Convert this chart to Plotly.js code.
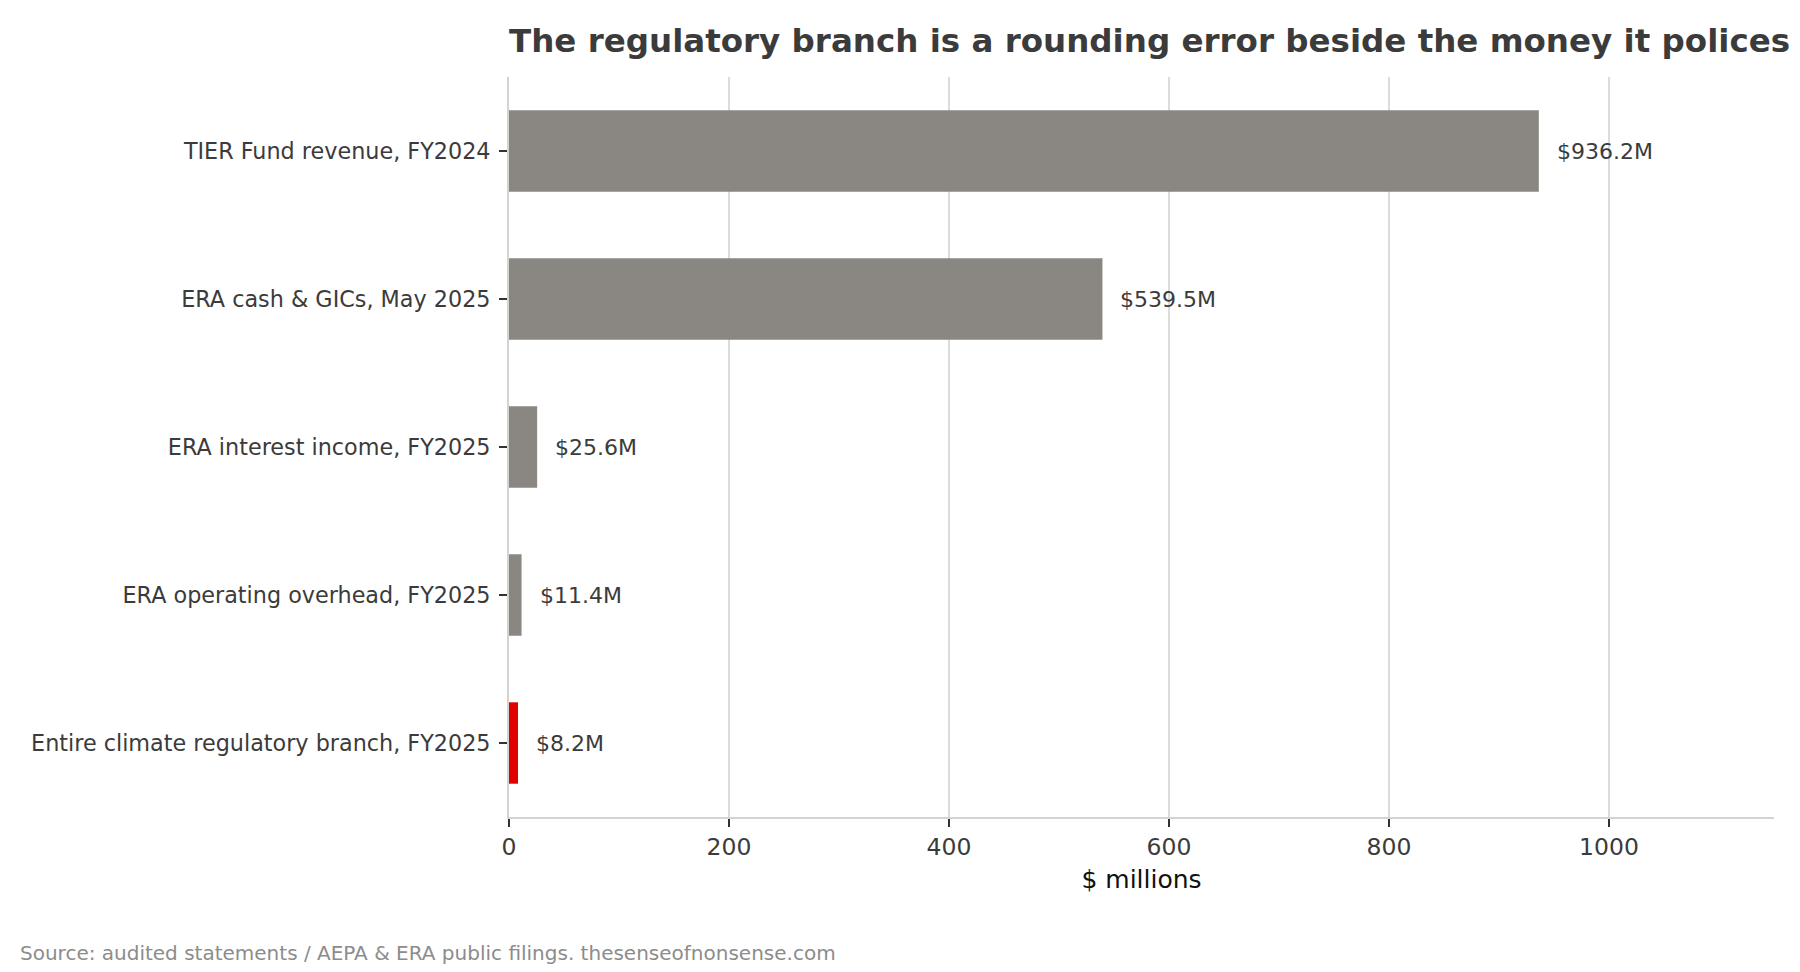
<!DOCTYPE html>
<html>
<head>
<meta charset="utf-8">
<script src="https://cdn.plot.ly/plotly-3.0.1.min.js"></script>
<style>
  html, body { margin: 0; padding: 0; background: #fff; }
  #chart { width: 1800px; height: 972px; }
</style>
</head>
<body>
<div id="chart"></div>
<script>
// values in $ millions, top to bottom
var categories = [
    'TIER Fund revenue, FY2024',
    'ERA cash & GICs, May 2025',
    'ERA interest income, FY2025',
    'ERA operating overhead, FY2025',
    'Entire climate regulatory branch, FY2025'
];
var amounts = [936.2, 539.5, 25.6, 11.4, 8.2];
var valueLabels = ['$936.2M', '$539.5M', '$25.6M', '$11.4M', '$8.2M'];
var barColors = ['#8a8782', '#8a8782', '#8a8782', '#8a8782', '#e00000'];
var xTicks = [0, 200, 400, 600, 800, 1000];

var textColor = '#3b3b3b';
var font = 'DejaVu Sans, sans-serif';

var trace = {
    type: 'bar',
    orientation: 'h',
    y: categories,
    x: amounts,
    width: 0.55,
    marker: { color: barColors, line: { width: 0 } },
    hoverinfo: 'skip',
    showlegend: false
};

var annotations = amounts.map(function (v, i) {
    return {
        x: v, y: categories[i], xref: 'x', yref: 'y',
        text: valueLabels[i], showarrow: false,
        xanchor: 'left', yanchor: 'middle', xshift: 16,
        font: { family: font, size: 22, color: textColor }
    };
});

annotations.push({
    xref: 'paper', yref: 'paper', x: 0, y: 0,
    text: 'Source: audited statements / AEPA & ERA public filings. thesenseofnonsense.com',
    showarrow: false, xanchor: 'left', yanchor: 'middle',
    xshift: -491, yshift: -136,
    font: { family: font, size: 20, color: '#8c8c8c' }
});

var layout = {
    width: 1800,
    height: 972,
    paper_bgcolor: '#ffffff',
    plot_bgcolor: '#ffffff',
    margin: { l: 509, r: 26, t: 77, b: 155 },
    title: {
        text: '<b>The regulatory branch is a rounding error beside the money it polices</b>',
        x: 0, xref: 'paper', xanchor: 'left',
        y: 0.958, yref: 'container', yanchor: 'middle',
        font: { family: font, size: 32.5, color: textColor }
    },
    xaxis: {
        range: [0, 1150],
        tickvals: xTicks,
        ticktext: xTicks.map(String),
        showgrid: true,
        gridcolor: '#dcdcdc',
        gridwidth: 2,
        zeroline: false,
        showline: true,
        linecolor: '#d3d3cf',
        linewidth: 2,
        ticks: 'outside',
        ticklen: 8,
        tickwidth: 2,
        tickcolor: '#333333',
        tickfont: { family: font, size: 23.5, color: textColor },
        title: {
            text: '$ millions',
            standoff: 10,
            font: { family: font, size: 25, color: '#111111' }
        }
    },
    yaxis: {
        type: 'category',
        autorange: false,
        range: [4.5, -0.5],
        showgrid: false,
        zeroline: false,
        showline: true,
        linecolor: '#d3d3cf',
        linewidth: 2,
        ticks: 'outside',
        ticklen: 8,
        tickwidth: 2,
        tickcolor: '#333333',
        ticklabelstandoff: 4,
        tickfont: { family: font, size: 22.3, color: textColor }
    },
    annotations: annotations
};

Plotly.newPlot('chart', [trace], layout, { displaylogo: false, displayModeBar: false, staticPlot: true });
</script>
</body>
</html>
